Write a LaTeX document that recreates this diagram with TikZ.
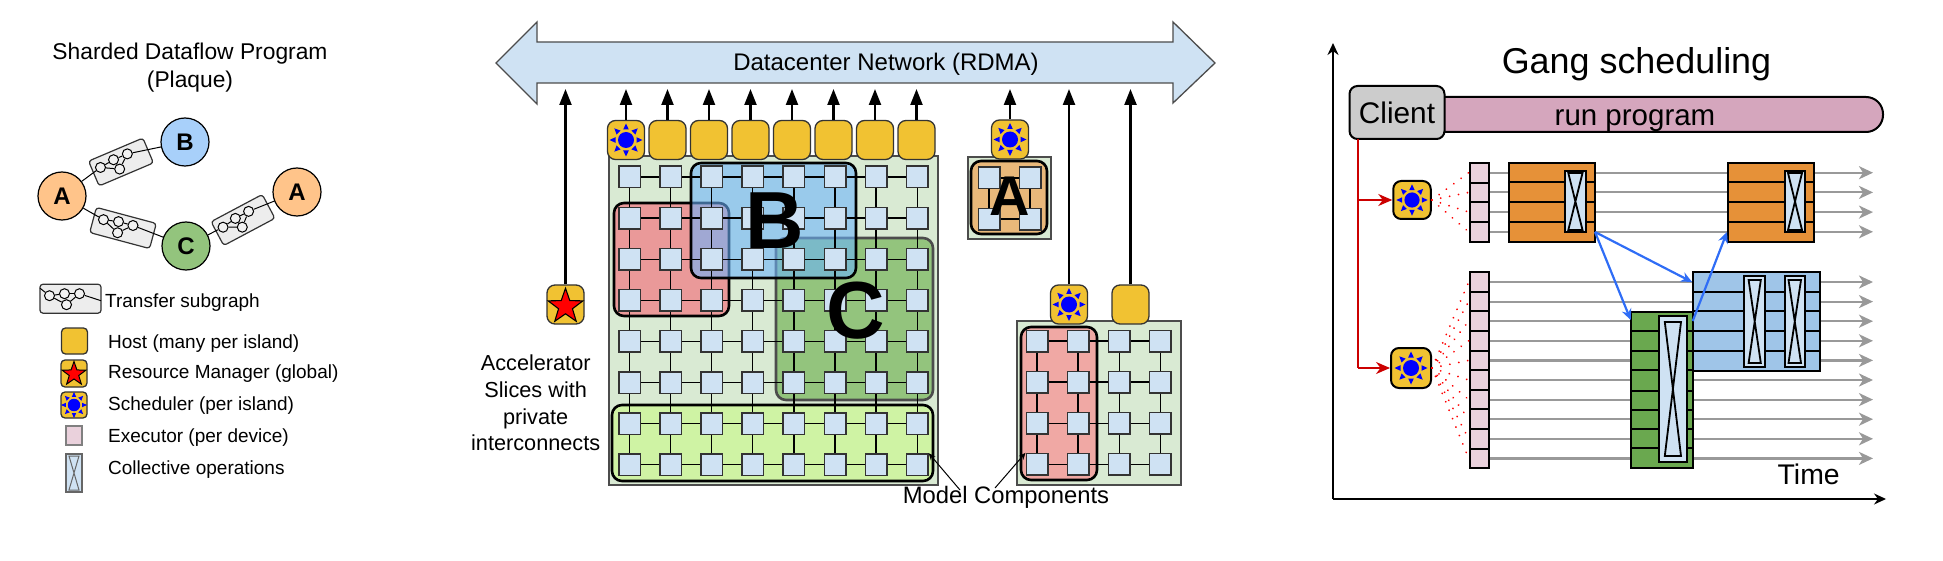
\documentclass[tikz,border=0pt]{standalone}
\usepackage{fontspec}
\setmainfont{Liberation Sans}
\usetikzlibrary{arrows.meta,shapes.geometric}
\definecolor{hostcol}{HTML}{F1C232}
\definecolor{devcol}{HTML}{CFE2F3}
\definecolor{islandcol}{HTML}{D9EAD3}
\definecolor{execcol}{HTML}{EAD1DC}
\definecolor{linkblue}{HTML}{2F6DF6}
\definecolor{opa}{HTML}{FFC48A}
\definecolor{opb}{HTML}{A8D0FA}
\definecolor{opc}{HTML}{93C47D}
\definecolor{slicered}{HTML}{EA9999}
\definecolor{sliceblue}{HTML}{6BB3FD}
\definecolor{slicelime}{HTML}{CFF3A4}
\definecolor{sliceorange}{HTML}{E9B87A}
\definecolor{slicepink}{HTML}{F0A8A4}
\definecolor{runcol}{HTML}{D5A6BD}
\definecolor{gangorange}{HTML}{E69138}
\definecolor{ganggreen}{HTML}{6AA84F}
\definecolor{gangblue}{HTML}{9FC5E8}
\tikzset{
  txt/.style={inner sep=0pt,font=\fontsize{#1}{#1}\selectfont},
  letter/.style={inner sep=0pt,font=\fontsize{#1}{#1}\selectfont\bfseries},
  opnode/.style={circle,draw=black,line width=1.2pt,minimum size=48pt,inner sep=0pt,font=\fontsize{24}{24}\selectfont\bfseries},
  subnode/.style={circle,draw=black,fill=black!5,line width=1pt,minimum size=10pt,inner sep=0pt},
  hostbox/.style={draw=black!80,fill=hostcol,line width=1.3pt,rounded corners=8pt,minimum width=37pt,minimum height=39pt,inner sep=0pt},
  devbox/.style={draw=black!80,fill=devcol,line width=1.5pt,minimum size=21.5pt,inner sep=0pt},
  uparrow/.style={line width=2.3pt,-{Triangle[length=16pt,width=12pt]}},
  slice/.style={line width=2.6pt,rounded corners=10pt},
  execbox/.style={draw=black,fill=execcol,line width=2pt,minimum width=19.5pt,minimum height=19.7pt,inner sep=0pt},
  block/.style={draw=black,line width=2pt,inner sep=0pt},
  timearrow/.style={draw=black!40,line width=2.2pt,-{Stealth[length=14pt,width=13pt,inset=4pt]}},
  reddots/.style={red,line width=1.9pt,line cap=round,dash pattern=on 0.1pt off 9pt},
  redlink/.style={draw=red!80!black,line width=2.2pt},
  bluelink/.style={linkblue,line width=2.2pt,-{Stealth[length=11pt,width=10pt]}},
  axis/.style={line width=1.6pt,-{Stealth[length=12pt,width=11pt]}},
}
\begin{document}
\begin{tikzpicture}[x=1pt,y=-1pt]
\useasboundingbox (0,0) rectangle (1943,561);
% left panel
\node[align=center,inner sep=0pt,font=\fontsize{22.8}{27.6}\selectfont] (progtitle) at (190,67.5) {Sharded Dataflow Program\\(Plaque)};
\node[opnode,fill=opa] (a1) at (62,196) {A};
\node[opnode,fill=opb] (b1) at (185,142) {B};
\node[opnode,fill=opc] (c1) at (186,246) {C};
\node[opnode,fill=opa] (a2) at (297,192) {A};
\foreach \tf/\cx/\cy/\ang/\w/\h in {ta/121/162/23/59/27,tb/123/228/-15/62/26,tc/243/220/28/58/27,td/70.5/298.7/0/61/29}{
  \begin{scope}[shift={(\cx,\cy)},rotate=\ang]
    \draw[draw=black!80,fill=black!7,line width=1.2pt,rounded corners=3pt] (-\w/2,-\h/2) rectangle (\w/2,\h/2);
    \node[subnode] (\tf c1) at (-21,-3) {};
    \node[subnode] (\tf c2) at (-6,-5) {};
    \node[subnode] (\tf c3) at (9,-5) {};
    \node[subnode] (\tf c4) at (-4,6) {};
    \coordinate (\tf in) at (-\w/2,-\h/2+4);
    \coordinate (\tf out) at (\w/2,2);
  \end{scope}
  \draw[line width=1pt] (\tf c1) -- (\tf c2);
  \draw[line width=1pt] (\tf c2) -- (\tf c3);
  \draw[line width=1pt] (\tf c1) -- (\tf c4);
  \draw[line width=1pt] (\tf c4) -- (\tf c3);
}
\draw[line width=1pt] (tac2) -- (tac4);
\draw[line width=1pt] (tcc2) -- (tcc4);
\draw[line width=1pt] (a1) -- (tac1);
\draw[line width=1pt] (tac3) -- (b1);
\draw[line width=1pt] (a1) -- (tbc1);
\draw[line width=1pt] (tbc3) -- (c1);
\draw[line width=1pt] (c1) -- (tcc1);
\draw[line width=1pt] (tcc3) -- (a2);
\draw[line width=1pt] (tdin) -- (tdc1);
\draw[line width=1pt] (tdc3) -- (tdout);
% legend
\node[txt=19,anchor=west] (ltransfer) at (105,303) {Transfer subgraph};
\node[txt=19,anchor=west] (lhost) at (108,343.5) {Host (many per island)};
\node[txt=19,anchor=west] (lrm) at (108,373.5) {Resource Manager (global)};
\node[txt=19,anchor=west] (lsched) at (108,405.5) {Scheduler (per island)};
\node[txt=19,anchor=west] (lexec) at (108,437.5) {Executor (per device)};
\node[txt=19,anchor=west] (lcoll) at (108,470) {Collective operations};
\node[hostbox,minimum width=26pt,minimum height=26pt,rounded corners=4pt] (ihost) at (74.5,341) {};
\node[hostbox,minimum width=26pt,minimum height=27pt,rounded corners=4pt] (irm) at (74,373.5) {};
\node[star,star points=5,star point ratio=2.5,draw=black,fill=red,line width=1pt,minimum size=25pt,inner sep=0pt] (istar) at (74,374) {};
\node[hostbox,minimum width=26pt,minimum height=26pt,rounded corners=4pt] (isched) at (74,405) {};
\node[draw=black!50,fill=execcol,line width=1.3pt,minimum width=16pt,minimum height=19pt,inner sep=0pt] (iexec) at (74,435.5) {};
% middle panel
\draw[draw=black!70,fill=devcol,line width=1.3pt] (496,63) -- (537,22) -- (537,42) -- (1173,42) -- (1173,22) -- (1215,63) -- (1173,103) -- (1173,83) -- (537,83) -- (537,104) -- cycle;
\node[txt=24] (nettext) at (886,64) {Datacenter Network (RDMA)};
\coordinate (nettip) at (0,89);
\foreach \xa/\ya/\xb/\yb in {609/156/938/485,968/157/1051/239,1017/321/1181/485}
  \draw[draw=black!70,fill=islandcol,line width=1.3pt] (\xa,\ya) rectangle (\xb,\yb);
\draw[slice,draw=black,fill=slicered] (614,203) rectangle (729,316);
\draw[slice,draw=black!70,fill=opc] (776,238) rectangle (933,400);
\draw[slice,draw=black,fill=sliceblue,fill opacity=.58] (691,163) rectangle (856,278);
\draw[slice,draw=black,fill=slicelime] (612,405) rectangle (933,481);
\draw[slice,draw=black,fill=sliceorange] (971,161) rectangle (1047,234);
\draw[slice,draw=black,fill=slicepink] (1021,327) rectangle (1097,480);
\foreach \g/\ox/\oy/\n in {n/629.5/177/8,k/989/178/2,m/1037/341/4}{
  \foreach \i in {1,...,\n}
    \foreach \j in {1,...,\n}
      \node[devbox] (\g\i\j) at ({\ox+41.1*(\i-1)},{\oy+41.1*(\j-1)}) {};
  \foreach \i in {1,...,\n}
    \foreach \j in {1,...,\n}{
      \pgfmathtruncatemacro\nx{\i+1}
      \pgfmathtruncatemacro\ny{\j+1}
      \ifnum\i<\n \draw[line width=1.3pt] (\g\i\j.east) -- (\g\nx\j.west); \fi
      \ifnum\j<\n \draw[line width=1.3pt] (\g\i\j.south) -- (\g\i\ny.north); \fi
    }
}
\foreach \i in {1,...,8}{
  \node[hostbox] (host\i) at ({626+41.5*(\i-1)},140) {};
  \draw[uparrow] (host\i.north) -- (host\i.north |- nettip);
}
\node[hostbox] (hosta) at (1010,139.5) {};
\node[hostbox] (hostb) at (1069,304.5) {};
\node[hostbox] (hostc) at (1130.5,304.5) {};
\node[hostbox] (rm) at (565.5,304.5) {};
\node[star,star points=5,star point ratio=2.5,draw=black,fill=red,line width=1.1pt,minimum size=36.5pt,inner sep=0pt] (rmstar) at (565.5,306.5) {};
\foreach \h in {hosta,hostb,hostc,rm}
  \draw[uparrow] (\h.north) -- (\h.north |- nettip);
\node[letter=81] (letterb) at (775,221) {B};
\node[letter=81] (letterc) at (856,311) {C};
\node[letter=56] (lettera) at (1010,196) {A};
\node[align=center,inner sep=0pt,font=\fontsize{21.7}{26.7}\selectfont] (slicetext) at (535.7,403) {Accelerator\\Slices with\\private\\interconnects};
\node[txt=23.8] (modeltext) at (1006,497) {Model Components};
\coordinate (modela) at (960,490);
\coordinate (modelb) at (995,488);
\draw[line width=1pt,-{Stealth[length=7pt,width=6pt]}] (modela) -- (n88.north east);
\draw[line width=1pt,-{Stealth[length=7pt,width=6pt]}] (modelb) -- (m14.north west);
% right panel
\coordinate (origin) at (1333,499);
\coordinate (ytip) at (1333,43);
\coordinate (xtip) at (1886,499);
\draw[axis] (origin) -- (ytip);
\draw[axis] (origin) -- (xtip);
\node[txt=35.9] (gangtitle) at (1636.5,64.5) {Gang scheduling};
\draw[draw=black,fill=runcol,line width=2pt,rounded corners=17pt] (1410,97) rectangle (1883,132);
\node[txt=29.5] (runtext) at (1635,121) {run program};
\node[draw=black,fill=black!20,line width=2pt,rounded corners=8pt,minimum width=95pt,minimum height=53pt,inner sep=0pt,font=\fontsize{29.8}{30}\selectfont] (client) at (1397,112.5) {Client};
\node[hostbox,draw=black,line width=2pt,minimum width=37.5pt,minimum height=38pt] (sa) at (1412,200) {};
\node[hostbox,draw=black,line width=2pt,minimum width=40pt,minimum height=40pt] (sb) at (1411,368) {};
\foreach \h/\s in {host1/1,hosta/1,hostb/1,isched/.78,sa/.95,sb/1}{
  \begin{scope}[shift={(\h)},scale=\s]
    \fill[blue] (0,0) circle (8);
    \foreach \a in {0,45,...,315}
      \fill[blue,rotate=\a] (10.5,-2.8) -- (16.5,0) -- (10.5,2.8) -- cycle;
  \end{scope}
}
\coordinate (timeend) at (1873,0);
\coordinate (redtop) at (1358,139);
\coordinate (redmida) at (1358,200);
\coordinate (redmidb) at (1358,368);
\draw[redlink] (redtop) -- (redmidb);
\draw[redlink,-{Stealth[length=14pt,width=12pt]}] (redmida) -- (sa.west);
\draw[redlink,-{Stealth[length=14pt,width=12pt]}] (redmidb) -- (sb.west);
\foreach \i/\y in {1/172.7,2/192.4,3/212.1,4/231.8}{
  \node[execbox] (exa\i) at (1479.4,\y) {};
  \draw[timearrow] (exa\i.east) -- (exa\i.east -| timeend);
  \draw[reddots] (sa.east) -- (exa\i.west);
}
\foreach \i/\y in {1/282,2/301.6,3/321.2,4/340.8,5/360.4,6/380,7/399.6,8/419.2,9/438.8,10/458.4}{
  \node[execbox] (exb\i) at (1479.4,\y) {};
  \draw[timearrow] (exb\i.east) -- (exb\i.east -| timeend);
  \draw[reddots] (sb.east) -- (exb\i.west);
}
\node[block,fill=gangorange,minimum width=86.5pt,minimum height=79pt] (ora) at (1552,202.5) {};
\node[block,fill=gangorange,minimum width=86.5pt,minimum height=79pt] (orb) at (1771,202.5) {};
\node[block,fill=ganggreen,minimum width=62.4pt,minimum height=156pt] (grn) at (1662,390) {};
\node[block,fill=gangblue,minimum width=127pt,minimum height=99pt] (blu) at (1756.5,321.5) {};
\foreach \xa/\xb/\y in {1509/1595/182,1509/1595/202,1509/1595/222,1728/1814/182,1728/1814/202,1728/1814/222,1631/1693/331,1631/1693/351,1631/1693/370,1631/1693/391,1631/1693/410,1631/1693/429,1631/1693/448,1693/1820/292,1693/1820/311,1693/1820/331,1693/1820/351}
  \draw[line width=2pt] (\xa,\y) -- (\xb,\y);
% collective operations
\foreach \xa/\ya/\xb/\yb/\xc/\yc/\xd/\yd in {1565/171/1585.5/232/1568.3/173/1582.5/230,1784.6/171/1804.8/232/1788/173/1802/230,1659.4/316/1687/462/1664.8/322/1681/456,1744.4/276/1765.4/367/1748.6/280/1760.8/363,1784.6/276/1804.8/367/1788.5/280/1801/363}{
  \draw[line width=2pt,fill=devcol] (\xa,\ya) rectangle (\xb,\yb);
  \draw[line width=1.8pt] (\xc,\yc) -- (\xd,\yc) -- (\xc,\yd) -- (\xd,\yd) -- cycle;
}
\draw[draw=black!60,line width=2pt,fill=devcol] (66,454) rectangle (82,492);
\draw[draw=black!60,line width=1pt] (69,456) -- (79,456) -- (69,490) -- (79,490) -- cycle;
\coordinate (oraout) at (1595,232);
\coordinate (grnin) at (1630.7,320);
\coordinate (bluin) at (1692,282);
\coordinate (grnout) at (1692.7,321);
\coordinate (orbin) at (1727,232);
\draw[bluelink] (oraout) -- (grnin);
\draw[bluelink] (oraout) -- (bluin);
\draw[bluelink] (grnout) -- (orbin);
\node[txt=28.4] (timetext) at (1808.7,474) {Time};
\end{tikzpicture}
\end{document}
